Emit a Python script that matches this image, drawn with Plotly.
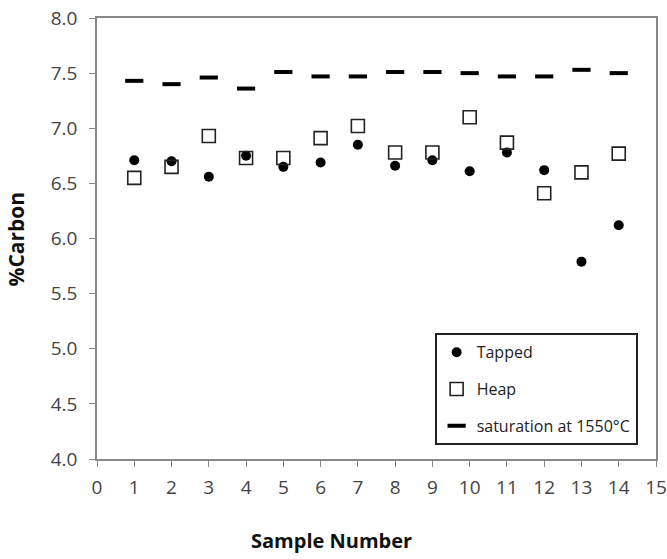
import plotly.graph_objects as go

samples = list(range(1, 15))
tapped = [6.71, 6.70, 6.56, 6.75, 6.65, 6.69, 6.85, 6.66, 6.71, 6.61, 6.78, 6.62, 5.79, 6.12]
heap = [6.55, 6.65, 6.93, 6.73, 6.73, 6.91, 7.02, 6.78, 6.78, 7.10, 6.87, 6.41, 6.60, 6.77]
saturation = [7.43, 7.40, 7.46, 7.36, 7.51, 7.47, 7.47, 7.51, 7.51, 7.50, 7.47, 7.47, 7.53, 7.50]
x_ticks = list(range(0, 16))
y_ticks = [4.0, 4.5, 5.0, 5.5, 6.0, 6.5, 7.0, 7.5, 8.0]

FONT = "Open Sans"

fig = go.Figure()
fig.add_trace(go.Scatter(
    x=samples, y=tapped, mode="markers", name="Tapped", legendgroup="a",
    marker=dict(symbol="circle", size=10, color="black"),
))
fig.add_trace(go.Scatter(
    x=samples, y=heap, mode="markers", name="Heap", legendgroup="b",
    marker=dict(symbol="square-open", size=13, color="#222", line=dict(width=1.6, color="#222")),
))
fig.add_trace(go.Scatter(
    x=samples, y=saturation, mode="markers", name="saturation at 1550°C", legendgroup="c",
    marker=dict(symbol="line-ew", size=13, color="black", line=dict(width=4, color="black")),
))

axis_common = dict(
    showgrid=False, zeroline=False, showline=True, linecolor="#888", linewidth=1.5,
    mirror=True, ticks="outside", ticklen=6, tickcolor="#888", automargin=False,
    tickfont=dict(family=FONT, size=19, color="#444"),
)
fig.update_xaxes(range=[0, 15], tickvals=x_ticks, ticktext=[str(v) for v in x_ticks],
                 ticklabelstandoff=4, **axis_common)
fig.update_yaxes(range=[4, 8], tickvals=y_ticks, ticktext=[f"{v:.1f}" for v in y_ticks],
                 ticklabelstandoff=8, **axis_common)

fig.add_annotation(text="<b>Sample Number</b>", xref="paper", yref="paper", x=0.42, y=-0.185,
                   showarrow=False, font=dict(family=FONT, size=20, color="#111"), yanchor="middle")
fig.add_annotation(text="<b>%Carbon</b>", xref="paper", yref="paper", x=-0.145, y=0.5,
                   textangle=-90, showarrow=False, font=dict(family=FONT, size=21, color="#111"),
                   xanchor="center")

fig.update_layout(
    width=667, height=559,
    margin=dict(l=97, r=11, t=18, b=100),
    paper_bgcolor="white", plot_bgcolor="white",
    showlegend=True,
    legend=dict(
        x=0.604, y=0.285, xanchor="left", yanchor="top",
        bordercolor="#222", borderwidth=2, bgcolor="white",
        font=dict(family=FONT, size=16, color="#222"),
        tracegroupgap=13, itemwidth=30,
    ),
)

fig.write_html("out.html")
